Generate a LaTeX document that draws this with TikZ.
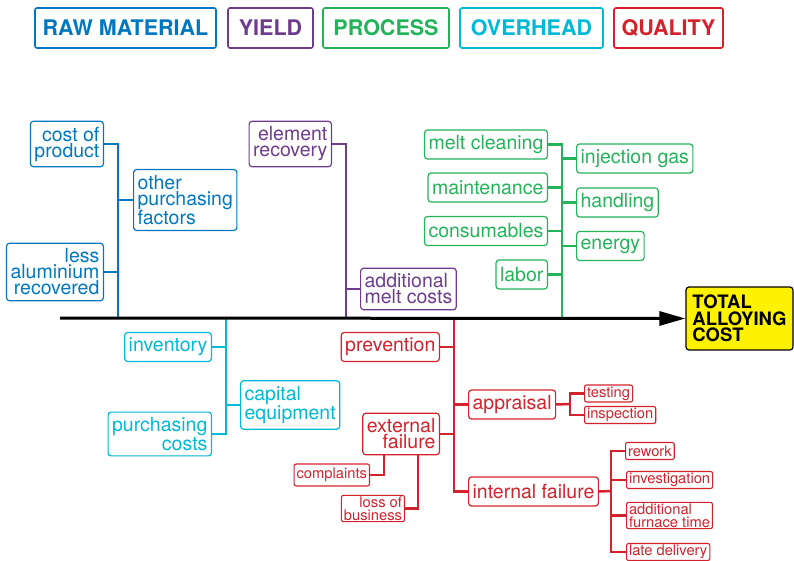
\documentclass[tikz,border=0pt]{standalone}
\usepackage{fontspec}
\setmainfont{TeX Gyre Heros}
\usetikzlibrary{arrows.meta,positioning}

\definecolor{rawblue}{HTML}{0078C1}
\definecolor{yieldpurple}{HTML}{6E3C8C}
\definecolor{procgreen}{HTML}{23B45A}
\definecolor{ohcyan}{HTML}{00B9D7}
\definecolor{qualred}{HTML}{D2232D}
\definecolor{totalyellow}{HTML}{FFF200}

\begin{document}
\begin{tikzpicture}[x=1pt,y=-1pt,
                    box/.style={draw,rounded corners=3pt,line width=1.2pt,inner xsep=4pt,
                      inner ysep=5.5pt,font=\fontsize{19.5}{16}\selectfont},
                    one/.style={minimum height=29pt,inner ysep=2pt},
                    small/.style={draw,rounded corners=2pt,line width=1.1pt,inner xsep=2.5pt,
                      inner ysep=1.2pt,minimum height=17pt,font=\fontsize{14.7}{13}\selectfont},
                    keybox/.style={draw,rounded corners=2pt,line width=1.6pt,minimum height=40pt,
                      font=\fontsize{21.5}{24}\selectfont\bfseries},
                    bone/.style={line width=2.5pt},
                    semithick]
  \tikzstyle{raw}=[box,draw=rawblue,text=rawblue]
  \tikzstyle{yield}=[box,draw=yieldpurple,text=yieldpurple]
  \tikzstyle{proc}=[box,one,draw=procgreen,text=procgreen]
  \tikzstyle{over}=[box,draw=ohcyan,text=ohcyan]
  \tikzstyle{qual}=[box,draw=qualred,text=qualred]
  \tikzstyle{qualsmall}=[small,draw=qualred,text=qualred]

  \useasboundingbox (0,0) rectangle (794,561);

  % legend
  \node[keybox,draw=rawblue,text=rawblue,minimum width=181pt]          (kraw)  at (125.5,28) {RAW MATERIAL};
  \node[keybox,draw=yieldpurple,text=yieldpurple,minimum width=85pt]   (kyield) at (270.5,28) {YIELD};
  \node[keybox,draw=procgreen,text=procgreen,minimum width=126pt]      (kproc) at (386,28) {PROCESS};
  \node[keybox,draw=ohcyan,text=ohcyan,minimum width=143pt]            (kover) at (531.5,28) {OVERHEAD};
  \node[keybox,draw=qualred,text=qualred,minimum width=109pt]          (kqual) at (668.5,28) {QUALITY};

  % effect
  \node[draw,fill=totalyellow,rounded corners=3pt,line width=1.2pt,minimum width=107pt,
        minimum height=63pt,align=left,font=\fontsize{18.5}{16.5}\selectfont\bfseries]
        (total) at (739.5,318.5) {TOTAL\\ALLOYING\\COST};
  \coordinate (tail) at (60,318);

  % raw material
  \node[raw,anchor=east,align=right] (cost)  at (104,144) {cost of\\product};
  \node[raw,anchor=west,align=left]  (other) at (133,200) {other\\purchasing\\factors};
  \node[raw,anchor=east,align=right] (less)  at (104,272) {less\\aluminium\\recovered};
  \coordinate (rawfoot) at (118,318);

  % yield
  \node[yield,anchor=east,align=right] (element) at (332,144) {element\\recovery};
  \node[yield,anchor=west,align=left]  (addmelt) at (360,289) {additional\\melt costs};
  \coordinate (yieldfoot) at (346,318);

  % process
  \node[proc,anchor=east] (clean)    at (548,144.5) {melt cleaning};
  \node[proc,anchor=east] (maint)    at (548,187.5) {maintenance};
  \node[proc,anchor=east] (consum)   at (548,231)   {consumables};
  \node[proc,anchor=east] (labor)    at (548,274.5) {labor};
  \node[proc,anchor=west] (gas)      at (576,158.5) {injection gas};
  \node[proc,anchor=west] (handling) at (576,202.5) {handling};
  \node[proc,anchor=west] (energy)   at (576,246)   {energy};
  \coordinate (procfoot) at (562,318);

  % overhead
  \node[over,one,anchor=east]        (inventory) at (212,347) {inventory};
  \node[over,anchor=west,align=left]  (capital)  at (240,405) {capital\\equipment};
  \node[over,anchor=east,align=right] (purch)    at (212,434) {purchasing\\costs};
  \coordinate (overtop) at (226,318);

  % quality
  \node[qual,one,anchor=east]         (prevention) at (440,347) {prevention};
  \node[qual,anchor=east,align=right] (extfail)    at (440,434) {external\\failure};
  \node[qual,one,anchor=west]         (appraisal)  at (468,404.5) {appraisal};
  \node[qual,one,anchor=west]         (intfail)    at (468,491.5) {internal failure};
  \coordinate (qualtop) at (454,318);

  \node[qualsmall,anchor=west] (testing)    at (584,393.5) {testing};
  \node[qualsmall,anchor=west] (inspection) at (584,415)   {inspection};
  \coordinate (apfork) at (570,404);

  \node[qualsmall,anchor=west] (rework)  at (625,451) {rework};
  \node[qualsmall,anchor=west] (investig) at (626,480) {investigation};
  \node[qualsmall,anchor=west,align=left] (addfurn) at (626,515.5) {additional\\furnace time};
  \node[qualsmall,anchor=west] (late)    at (626,552) {late delivery};
  \coordinate (iffork) at (611,491);

  \node[qualsmall,anchor=east,minimum height=22pt] (complaints) at (370,475) {complaints};
  \node[qualsmall,anchor=east,align=right] (loss) at (405,508.5) {loss of\\business};
  \coordinate (cmpdrop) at (384,0);
  \coordinate (lossdrop) at (418,0);

  % bones
  \draw[bone,rawblue] (cost.east) -| (rawfoot);
  \draw[bone,rawblue] (other.west) -- (other.west -| rawfoot);
  \draw[bone,rawblue] (less.east) -- (less.east -| rawfoot);

  \draw[bone,yieldpurple] (element.east) -| (yieldfoot);
  \draw[bone,yieldpurple] (addmelt.west) -- (addmelt.west -| yieldfoot);

  \draw[bone,procgreen] (clean.east) -| (procfoot);
  \foreach \n in {maint,consum,labor}
    \draw[bone,procgreen] (\n.east) -- (\n.east -| procfoot);
  \foreach \n in {gas,handling,energy}
    \draw[bone,procgreen] (\n.west) -- (\n.west -| procfoot);

  \draw[bone,ohcyan] (overtop) |- (purch.east);
  \draw[bone,ohcyan] (inventory.east) -- (inventory.east -| overtop);
  \draw[bone,ohcyan] (capital.west) -- (capital.west -| overtop);

  \draw[bone,qualred] (qualtop) |- (intfail.west);
  \draw[bone,qualred] (prevention.east) -- (prevention.east -| qualtop);
  \draw[bone,qualred] (extfail.east) -- (extfail.east -| qualtop);
  \draw[bone,qualred] (appraisal.west) -- (appraisal.west -| qualtop);

  \draw[bone,qualred] (appraisal.east) -- (apfork);
  \draw[bone,qualred] (testing.west) -| (apfork) |- (inspection.west);
  \draw[bone,qualred] (intfail.east) -- (iffork);
  \draw[bone,qualred] (rework.west) -| (iffork) |- (late.west);
  \draw[bone,qualred] (investig.west) -- (investig.west -| iffork);
  \draw[bone,qualred] (addfurn.west) -- (addfurn.west -| iffork);
  \draw[bone,qualred] (extfail.south -| cmpdrop) |- (complaints.east);
  \draw[bone,qualred] (extfail.south -| lossdrop) |- (loss.east);

  % spine
  \draw[line width=3pt,-{Triangle[length=26pt,width=14pt]}] (tail) -- (total.west);
\end{tikzpicture}
\end{document}
